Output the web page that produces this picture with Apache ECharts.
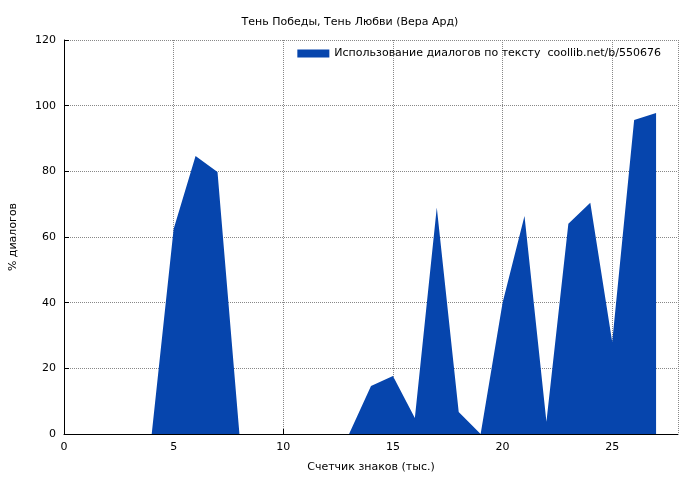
<!DOCTYPE html>
<html><head><meta charset="utf-8">
<script src="https://cdn.jsdelivr.net/npm/echarts@6/dist/echarts.min.js"></script>
<style>body{margin:0}#c{width:700px;height:480px}</style></head>
<body><div id="c"></div>
<script>
const xs = [0,1,2,3,4,5,6,7,8,9,10,11,12,13,14,15,16,17,18,19,20,21,22,23,24,25,26,27];
const ys = [0,0,0,0,0,62.4,84.7,79.8,0,0,0,0,0,0,14.6,17.7,4.9,69,6.7,0,40,66.4,3.7,64,70.4,28,95.6,97.8];
const title = 'Тень Победы, Тень Любви (Вера Ард)';
const seriesName = 'Использование диалогов по тексту  coollib.net/b/550676';
const f = 'DejaVu Sans';
const ch = echarts.init(document.getElementById('c'));
ch.setOption({
  animation:false,
  title:{text:title,left:'center',top:12,textStyle:{fontFamily:f,fontSize:11,fontWeight:'normal',color:'#000'}},
  legend:{right:34,top:43,itemWidth:32,itemHeight:8,itemGap:6,icon:'rect',textStyle:{fontFamily:f,fontSize:11,color:'#000'},data:[seriesName]},
  grid:{left:62,right:22,top:40,bottom:46},
  xAxis:{type:'value',min:0,max:28,interval:5,
    name:'Счетчик знаков (тыс.)',nameLocation:'middle',nameGap:28,nameTextStyle:{fontFamily:f,fontSize:11,color:'#000'},
    axisLine:{lineStyle:{color:'#000'}},axisTick:{inside:true,length:5,lineStyle:{color:'#000'}},
    axisLabel:{fontFamily:f,fontSize:11,color:'#000',showMaxLabel:false},
    splitLine:{lineStyle:{type:'dotted',color:'#888'}}},
  yAxis:{type:'value',min:0,max:120,interval:20,
    name:'% диалогов',nameLocation:'middle',nameGap:45,nameTextStyle:{fontFamily:f,fontSize:11,color:'#000'},
    axisLine:{show:true,lineStyle:{color:'#000'}},axisTick:{show:true,inside:true,length:5,lineStyle:{color:'#000'}},
    axisLabel:{fontFamily:f,fontSize:11,color:'#000'},
    splitLine:{lineStyle:{type:'dotted',color:'#888'}}},
  series:[{name:seriesName,type:'line',data:xs.map((x,i)=>[x,ys[i]]),symbol:'none',
    lineStyle:{width:0,color:'#0645ad'},itemStyle:{color:'#0645ad'},areaStyle:{color:'#0645ad',opacity:1}}]
});
</script></body></html>
